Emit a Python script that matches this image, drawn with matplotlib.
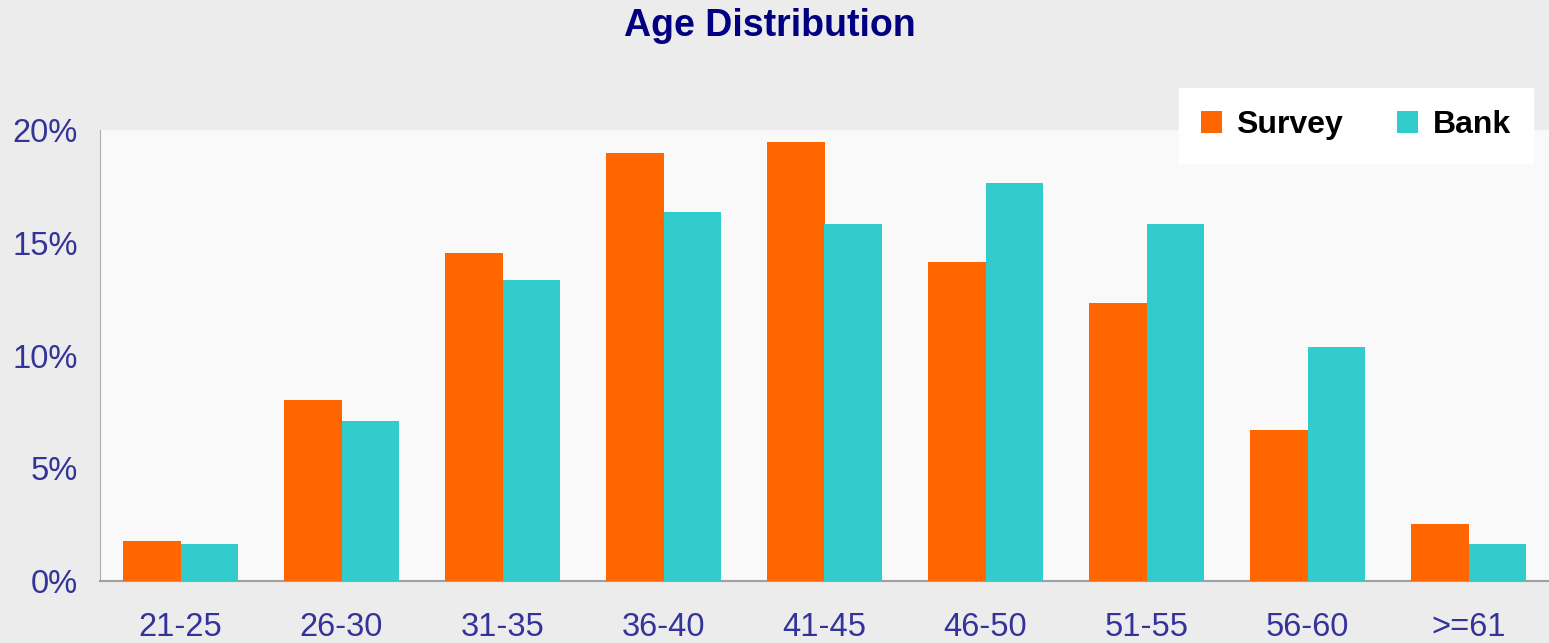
import numpy as np
import matplotlib.pyplot as plt
from matplotlib.ticker import FuncFormatter

# age groups and shares (%)
age_groups = ["21-25", "26-30", "31-35", "36-40", "41-45", "46-50", "51-55", "56-60", ">=61"]
survey = [1.77, 8.03, 14.55, 18.98, 19.47, 14.15, 12.33, 6.70, 2.53]
bank = [1.64, 7.10, 13.35, 16.36, 15.83, 17.65, 15.83, 10.38, 1.64]

orange = "#FF6600"
teal = "#33CCCC"
label_col = "#333399"

plt.rcParams['font.family'] = ['Liberation Sans', 'DejaVu Sans']

fig = plt.figure(figsize=(15.49, 6.43), dpi=100, facecolor="#ececec")
ax = fig.add_axes([100/1549, 1-581/643, 1-100/1549, (581-130)/643])
ax.set_facecolor("#f9f9f9")

x = np.arange(len(age_groups))
w = 0.36
ax.bar(x - w/2, survey, width=w, color=orange, label="Survey", zorder=3)
ax.bar(x + w/2, bank, width=w, color=teal, label="Bank", zorder=3)

ax.set_xlim(-0.5, len(age_groups) - 0.5)
ax.set_ylim(0, 20)
ax.set_yticks([0, 5, 10, 15, 20])
ax.yaxis.set_major_formatter(FuncFormatter(lambda v, p: "{:.0f}%".format(v)))
ax.set_xticks(x)
ax.set_xticklabels(age_groups)
ax.tick_params(axis='y', length=0, pad=16, labelsize=23.5, labelcolor=label_col)
ax.tick_params(axis='x', length=0, pad=22, labelsize=23.5, labelcolor=label_col)

for s in ["top", "right"]:
    ax.spines[s].set_visible(False)
ax.spines["left"].set_color("#b0b0b0")
ax.spines["bottom"].set_color("#a0a0a0")
ax.spines["bottom"].set_linewidth(1.5)

fig.text(0.497, 0.960, "Age Distribution", ha="center", va="center",
         fontsize=27, fontweight="bold", color="#000080")

leg = ax.legend(loc="upper right", bbox_to_anchor=(1533/1549, 1-88/643),
                bbox_transform=fig.transFigure, ncol=2, frameon=True,
                fancybox=False, handlelength=0.65, handleheight=0.65,
                handletextpad=0.45, columnspacing=1.7, borderpad=0.7,
                borderaxespad=0, prop={'size': 23, 'weight': 'bold'})
leg.get_frame().set_facecolor("white")
leg.get_frame().set_edgecolor("white")
leg.get_frame().set_alpha(1)

fig.savefig("out.png", dpi=100, facecolor=fig.get_facecolor())
